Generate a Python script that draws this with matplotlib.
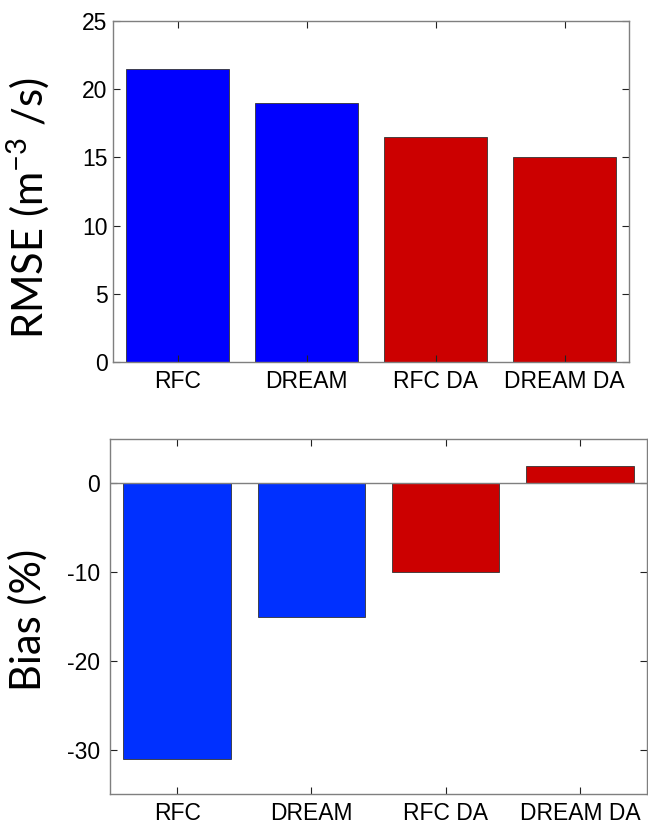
import matplotlib.pyplot as plt
import numpy as np

# data
models = ['RFC', 'DREAM', 'RFC DA', 'DREAM DA']
rmse = [21.5, 19.0, 16.5, 15.0]
bias = [-31.0, -15.0, -10.0, 2.0]
top_colors = ['#0000ff', '#0000ff', '#cc0000', '#cc0000']
bot_colors = ['#0030ff', '#0030ff', '#cc0000', '#cc0000']

plt.rcParams['font.family'] = ['Liberation Sans', 'DejaVu Sans']
plt.rcParams['axes.unicode_minus'] = False
plt.rcParams['mathtext.fontset'] = 'custom'
plt.rcParams['mathtext.rm'] = 'Lato'
plt.rcParams['mathtext.it'] = 'Lato'
plt.rcParams['mathtext.default'] = 'rm'

fig = plt.figure(figsize=(6.48, 8.25), dpi=100)
W, H = 648, 825

def make_axes(left, top, right, bottom):
  return fig.add_axes([left / W, 1 - bottom / H, (right - left) / W, (bottom - top) / H])

def style(ax, ypad):
  for s in ax.spines.values():
    s.set_color('#7f7f7f')
    s.set_linewidth(1.0)
  ax.tick_params(direction='in', length=5, width=0.8, top=True, right=True,
                 labelsize=16.5, color='#222222')
  ax.tick_params(axis='x', pad=6)
  ax.tick_params(axis='y', pad=ypad)

x = np.arange(1, len(models) + 1)

ax1 = make_axes(113, 21, 629, 362)
ax1.bar(x, rmse, width=0.8, color=top_colors, edgecolor='#333333', linewidth=0.6)
ax1.set_xlim(0.5, 4.5)
ax1.set_ylim(0, 25)
ax1.set_yticks([0, 5, 10, 15, 20, 25])
ax1.set_xticks(x)
ax1.set_xticklabels(models)
style(ax1, 4)
ax1.set_ylabel('RMSE (m$^{-3}$ /s)', family=['Lato', 'DejaVu Sans'], fontsize=30, va='center')
ax1.yaxis.set_label_coords((28 - 113) / 516, (362 - 208) / 341)

ax2 = make_axes(110, 439, 647, 794)
ax2.bar(x, bias, width=0.8, color=bot_colors, edgecolor='#333333', linewidth=0.6)
ax2.axhline(0, color='#7f7f7f', linewidth=1.0)
ax2.set_xlim(0.5, 4.5)
ax2.set_ylim(-35, 5)
ax2.set_yticks([-30, -20, -10, 0])
ax2.set_xticks(x)
ax2.set_xticklabels(models)
style(ax2, 7)
ax2.set_ylabel('Bias (%)', family=['Lato', 'DejaVu Sans'], fontsize=30, va='center')
ax2.yaxis.set_label_coords((28 - 110) / 537, (794 - 620) / 355)

fig.savefig('out.png', dpi=100)
